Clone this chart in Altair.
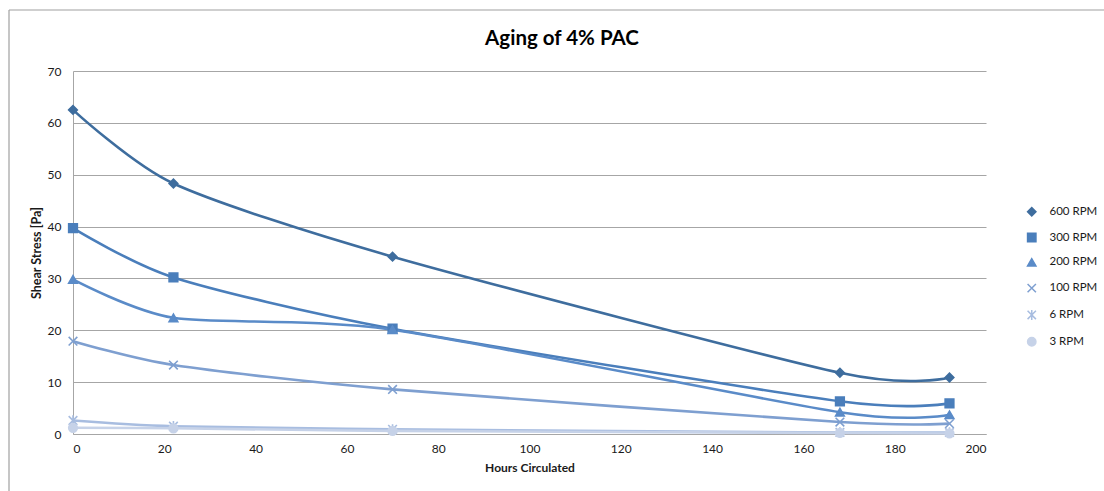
import altair as alt
import pandas as pd

# Hours circulated at each measurement
hours = [0, 22, 70, 168, 192]

# Shear stress [Pa] at each rotor speed
series_names = ["600 RPM", "300 RPM", "200 RPM", "100 RPM", "6 RPM", "3 RPM"]
stress_600 = [62.5, 48.3, 34.2, 11.8, 10.9]
stress_300 = [39.7, 30.2, 20.3, 6.3, 5.9]
stress_200 = [29.8, 22.4, 20.1, 4.2, 3.7]
stress_100 = [17.9, 13.3, 8.6, 2.3, 2.0]
stress_6 = [2.6, 1.5, 0.9, 0.3, 0.3]
stress_3 = [1.2, 1.1, 0.6, 0.2, 0.1]

series_values = [stress_600, stress_300, stress_200, stress_100, stress_6, stress_3]
series_colors = ["#3E6D9E", "#4A7EBB", "#5A8BC8", "#7E9FD0", "#A8BDE0", "#C6D2E8"]
x_path = "M-1,-1L1,1M-1,1L1,-1"
star_path = "M-1,-1L1,1M-1,1L1,-1M0,-1.2L0,1.2"
series_shapes = ["diamond", "square", "triangle-up", x_path, star_path, "circle"]

chart_title = "Aging of 4% PAC"

rows = []
for name, vals in zip(series_names, series_values):
    for h, v in zip(hours, vals):
        rows.append({"Hours": h, "Stress": v, "Series": name})
df = pd.DataFrame(rows)

FONT = "Lato"

x_enc = alt.X("Hours:Q", title="Hours Circulated",
              scale=alt.Scale(domain=[0, 200], nice=False),
              axis=alt.Axis(values=list(range(0, 201, 20)), grid=False,
                            domainColor="#A6A6A6", ticks=False, labelPadding=9,
                            labelFontSize=12, labelColor="#1a1a1a",
                            titleFontSize=12, titleFontWeight="bold",
                            titleColor="#1a1a1a", titlePadding=8))
y_enc = alt.Y("Stress:Q", title="Shear Stress [Pa]",
              scale=alt.Scale(domain=[0, 70], nice=False),
              axis=alt.Axis(values=list(range(0, 71, 10)), grid=True,
                            gridColor="#A6A6A6", gridWidth=1.2,
                            domainColor="#A6A6A6", ticks=False, labelPadding=12,
                            labelFontSize=12, labelColor="#1a1a1a",
                            titleFontSize=12.5, titleFontWeight="bold",
                            titleColor="#1a1a1a", titlePadding=4))
color_scale = alt.Scale(domain=series_names, range=series_colors)
shape_scale = alt.Scale(domain=series_names, range=series_shapes)

legend = alt.Legend(title=None, orient="none", legendX=953, legendY=135,
                    padding=0, rowPadding=10.8, labelFontSize=11.5,
                    labelColor="#1a1a1a", symbolSize=70, labelOffset=12)

lines = alt.Chart(df).mark_line(interpolate="cardinal", tension=0.25, strokeWidth=2.6).encode(
    x=x_enc, y=y_enc,
    color=alt.Color("Series:N", scale=color_scale, legend=legend),
    detail="Series:N",
)

points = alt.Chart(df).mark_point(filled=True, size=75, strokeWidth=1.6, opacity=1).encode(
    x="Hours:Q", y="Stress:Q",
    color=alt.Color("Series:N", scale=color_scale, legend=legend),
    stroke=alt.Stroke("Series:N", scale=color_scale, legend=legend),
    shape=alt.Shape("Series:N", scale=shape_scale, legend=legend),
)

# Chart border (top and left edges) and the title above the plot
frame_top = alt.Chart(alt.Data(values=[{}])).mark_rule(color="#A0A0A0", strokeWidth=1.2).encode(
    x=alt.value(-64), x2=alt.value(1031), y=alt.value(-61))
frame_left = alt.Chart(alt.Data(values=[{}])).mark_rule(color="#A0A0A0", strokeWidth=1.2).encode(
    x=alt.value(-64), y=alt.value(-61), y2=alt.value(420))
title = alt.Chart(alt.Data(values=[{"t": chart_title}])).mark_text(
    font=FONT, fontSize=20.5, fontWeight="bold", color="#000000",
    align="center", baseline="alphabetic",
).encode(x=alt.value(489), y=alt.value(-26), text="t:N")

chart = alt.layer(frame_top, frame_left, title, lines, points).properties(
    width=913, height=363,
    autosize=alt.AutoSizeParams(type="none"),
    padding={"left": 73, "top": 71, "right": 118, "bottom": 57},
).configure(
    font=FONT,
).configure_view(
    stroke=None,
).configure_axis(
    labelFont=FONT, titleFont=FONT,
).configure_legend(
    labelFont=FONT,
)

chart.save("out.html", embed_options={"renderer": "svg", "actions": False})
